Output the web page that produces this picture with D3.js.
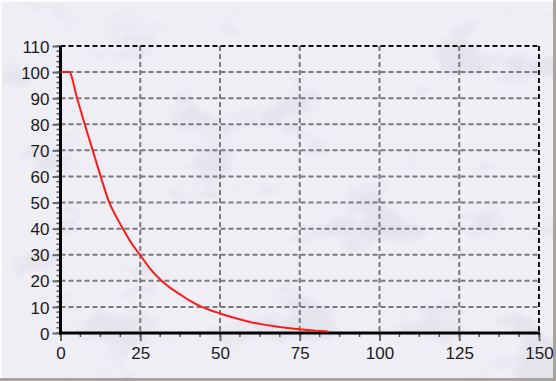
<!DOCTYPE html>
<html>
<head>
<meta charset="utf-8">
<script src="https://cdn.jsdelivr.net/npm/d3@7"></script>
<style>
  body { margin: 0; background: #fff; }
  svg { display: block; }
  .tick text { font-family: "Liberation Sans", Arial, sans-serif; font-size: 17px; fill: #1a1a1a; }
</style>
</head>
<body>
<svg id="chart"></svg>
<script>
// values
const xValues = [0, 2.7, 5.2, 7.6, 10.1, 12.6, 15.3, 17.5, 19.8, 22.2, 24.9, 28, 31.7, 34.5, 37.5, 40.5, 44.3, 47, 50, 53, 56, 59, 62.5, 66.6, 70, 75, 80, 84];
const yValues = [100, 100, 90, 80, 70, 60, 50, 44.5, 39.5, 34.5, 30, 24.8, 20, 17.2, 14.8, 12.4, 10, 8.7, 7.5, 6.3, 5.3, 4.3, 3.5, 2.7, 2.1, 1.4, 0.9, 0.6];
const xTicks = [0, 25, 50, 75, 100, 125, 150];
const yTicks = [0, 10, 20, 30, 40, 50, 60, 70, 80, 90, 100, 110];

const W = 556, H = 381;
const margin = { top: 46, right: 17, bottom: 48, left: 60.5 },
  width = W - margin.left - margin.right,
  height = H - margin.top - margin.bottom;

const svg = d3.select("#chart").attr("width", W).attr("height", H);

// marble-ish background
const defs = svg.append("defs");
const f = defs.append("filter").attr("id", "marble").attr("x", 0).attr("y", 0).attr("width", "100%").attr("height", "100%");
f.append("feTurbulence").attr("type", "fractalNoise").attr("baseFrequency", "0.012 0.02").attr("numOctaves", 4).attr("seed", 7).attr("result", "n");
f.append("feColorMatrix").attr("in", "n").attr("type", "matrix")
  .attr("values", "0 0 0 0 0.55  0 0 0 0 0.55  0 0 0 0 0.65  -2.2 0 0 6 -2.45")
  .attr("result", "v");
f.append("feComponentTransfer").attr("in", "v")
  .append("feFuncA").attr("type", "linear").attr("slope", 0.25);

svg.append("rect").attr("width", W).attr("height", H).attr("fill", "#efeef5");
svg.append("rect").attr("width", W).attr("height", H).attr("filter", "url(#marble)");

// bevel frame
svg.append("rect").attr("x", 0).attr("y", 0).attr("width", W).attr("height", 2).attr("fill", "#fbfbfd");
svg.append("rect").attr("x", 0).attr("y", 0).attr("width", 2).attr("height", H).attr("fill", "#fbfbfd");
svg.append("rect").attr("x", 0).attr("y", H - 3).attr("width", W).attr("height", 3).attr("fill", "#a6a49c");
svg.append("rect").attr("x", W - 3).attr("y", 0).attr("width", 3).attr("height", H).attr("fill", "#a6a49c");

const g = svg.append("g").attr("transform", "translate(" + margin.left + "," + margin.top + ")");

const x = d3.scaleLinear().domain([0, 150]).range([0, width]);
const y = d3.scaleLinear().domain([0, 110]).range([height, 0]);

// grid
g.append("g")
  .selectAll("line")
  .data(yTicks.filter((d) => d > 0 && d < 110))
  .join("line")
  .attr("x1", 0).attr("x2", width)
  .attr("y1", (d) => y(d)).attr("y2", (d) => y(d))
  .attr("stroke", "#7a7a7a").attr("stroke-width", 2).attr("stroke-dasharray", "5,3");

g.append("g")
  .selectAll("line")
  .data(xTicks.filter((d) => d > 0 && d < 150))
  .join("line")
  .attr("y1", 0).attr("y2", height)
  .attr("x1", (d) => x(d)).attr("x2", (d) => x(d))
  .attr("stroke", "#7a7a7a").attr("stroke-width", 2).attr("stroke-dasharray", "5,3");

// top and right border (dashed)
g.append("line").attr("x1", 0).attr("x2", width).attr("y1", 0).attr("y2", 0)
  .attr("stroke", "#111").attr("stroke-width", 2).attr("stroke-dasharray", "5,3");
g.append("line").attr("x1", width).attr("x2", width).attr("y1", 0).attr("y2", height)
  .attr("stroke", "#111").attr("stroke-width", 2).attr("stroke-dasharray", "5,3");

// minor ticks
g.append("g")
  .selectAll("line")
  .data(d3.range(0, 150.01, 6.25))
  .join("line")
  .attr("x1", (d) => x(d)).attr("x2", (d) => x(d))
  .attr("y1", height).attr("y2", height + 4)
  .attr("stroke", "#555").attr("stroke-width", 1.5);
g.append("g")
  .selectAll("line")
  .data(d3.range(0, 110.01, 2))
  .join("line")
  .attr("x1", -4).attr("x2", 0)
  .attr("y1", (d) => y(d)).attr("y2", (d) => y(d))
  .attr("stroke", "#555").attr("stroke-width", 1.5);

// axes
const xAxis = g.append("g")
  .attr("transform", "translate(0," + height + ")")
  .call(d3.axisBottom(x).tickValues(xTicks).tickSize(8).tickPadding(6));
const yAxis = g.append("g")
  .call(d3.axisLeft(y).tickValues(yTicks).tickSize(8).tickPadding(3));

[xAxis, yAxis].forEach((a) => {
  a.select(".domain").remove();
  a.selectAll(".tick line").attr("stroke", "#666").attr("stroke-width", 2);
});
yAxis.selectAll(".tick text").attr("dy", "0.36em");

g.append("line").attr("x1", 0).attr("x2", 0).attr("y1", 0).attr("y2", height + 1.5)
  .attr("stroke", "#000").attr("stroke-width", 3);
g.append("line").attr("x1", -1.5).attr("x2", width + 1).attr("y1", height).attr("y2", height)
  .attr("stroke", "#000").attr("stroke-width", 3);

// curve
const curve = xValues.map((d, i) => [d, yValues[i]]);
g.append("path")
  .datum(curve)
  .attr("fill", "none")
  .attr("stroke", "#ff1a1a")
  .attr("stroke-width", 2)
  .attr("d", d3.line().curve(d3.curveMonotoneX).x((d) => x(d[0])).y((d) => y(d[1])));
</script>
</body>
</html>
